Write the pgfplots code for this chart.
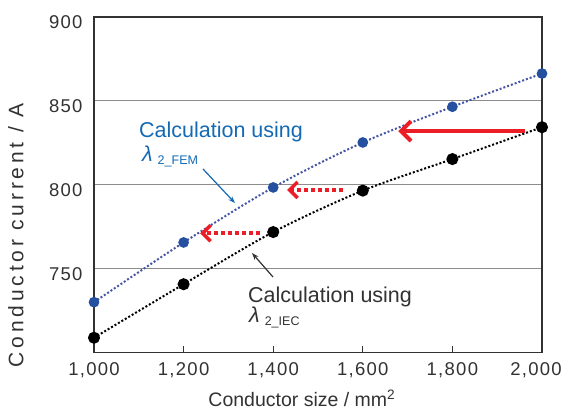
\documentclass[border=0pt]{standalone}
\usepackage{pgfplots}
\pgfplotsset{compat=1.18}
\usepackage{fontspec}
\setmainfont{Liberation Sans}
\usetikzlibrary{arrows.meta}
\definecolor{femblue}{RGB}{37,80,160}
\definecolor{femline}{RGB}{70,85,165}
\definecolor{txtblue}{RGB}{20,105,180}
\definecolor{arrred}{RGB}{235,30,40}
\definecolor{gridgray}{RGB}{140,140,140}
\definecolor{tickgray}{RGB}{50,50,50}
\begin{document}
\begin{tikzpicture}
\begin{axis}[
  scale only axis, width=448bp, height=335.5bp,
  xmin=1000, xmax=2000, ymin=700, ymax=900,
  xtick={1000,1200,1400,1600,1800,2000},
  xticklabels={{1,000},{1,200},{1,400},{1,600},{1,800},{\hspace*{-12bp}2,000}},
  ytick={750,800,850,900},
  ymajorgrids, grid style={gridgray, line width=1.2bp},
  axis line style={tickgray, line width=1.3bp},
  xtick pos=bottom, ytick pos=left, tick align=inside,
  ytick style={draw=none},
  xtick style={tickgray, line width=1.2bp},
  major tick length=6bp,
  /pgf/number format/1000 sep={,},
  /pgf/number format/assume math mode=true,
  ticklabel style={font=\fontsize{18.5bp}{20bp}\selectfont\addfontfeature{LetterSpace=7}, text=tickgray},
  xticklabel style={yshift=-7bp},
  yticklabel style={xshift=-8bp, yshift=-5.5bp},
  xlabel={Conductor size / mm\textsuperscript{2}},
  ylabel={Conductor current / A},
  label style={text=tickgray, inner sep=0pt},
  xlabel style={font=\fontsize{19.5bp}{22bp}\selectfont, at={(axis description cs:0.464,-0.1616)}, anchor=base},
  ylabel style={font=\fontsize{21bp}{23bp}\selectfont\addfontfeature{LetterSpace=18}, at={(axis description cs:-0.1578,0.35)}, anchor=base},
]
\coordinate (sw) at (rel axis cs:0,0);
\coordinate (ne) at (rel axis cs:1,1);

\addplot[smooth, femline, line width=2bp, dash pattern=on 2bp off 2bp,
  mark=*, mark size=4.3bp, mark options={solid, fill=femblue, draw=femblue}]
  coordinates {(1000,730.0) (1200,765.6) (1400,798.4) (1600,825.2) (1800,846.5) (2000,866.3)};
\addplot[smooth, black, line width=2bp, dash pattern=on 2bp off 2bp,
  mark=*, mark size=5bp, mark options={solid, fill=black, draw=black}]
  coordinates {(1000,708.8) (1200,740.7) (1400,771.8) (1600,796.5) (1800,815.3) (2000,834.3)};

% red arrows
\draw[arrred, line width=4bp, -{Straight Barb[length=10bp,width=20bp]}]
  (axis cs:1962,832.0) -- (axis cs:1679,832.0);
\draw[arrred, line width=3.5bp, dash pattern=on 4bp off 3bp, -{Straight Barb[length=8bp,width=16bp]}]
  (axis cs:1556,796.9) -- (axis cs:1431,796.9);
\draw[arrred, line width=3.5bp, dash pattern=on 4bp off 3bp, -{Straight Barb[length=8bp,width=16bp]}]
  (axis cs:1370,771.1) -- (axis cs:1237,771.1);

% annotations
\node[anchor=base west, inner sep=0pt, text=txtblue, font=\fontsize{21.5bp}{24bp}\selectfont]
  at (axis cs:1100.4,828) {Calculation using};
\node[anchor=base west, inner sep=0pt, text=txtblue, font=\fontsize{21.5bp}{24bp}\selectfont]
  at (axis cs:1107,813.6) {\textit{λ}\hspace{5bp}\raisebox{-3bp}{\fontsize{12.5bp}{14bp}\selectfont 2\_FEM}};
\draw[txtblue, line width=1.2bp, -{Stealth[length=7bp,width=5bp]}]
  (axis cs:1243.3,809.4) -- (axis cs:1314.7,789.1);

\node[anchor=base west, inner sep=0pt, text=tickgray, font=\fontsize{21.5bp}{24bp}\selectfont]
  at (axis cs:1343.8,730.1) {Calculation using};
\node[anchor=base west, inner sep=0pt, text=tickgray, font=\fontsize{21.5bp}{24bp}\selectfont]
  at (axis cs:1346,717.6) {\textit{λ}\hspace{5bp}\raisebox{-3bp}{\fontsize{12.5bp}{14bp}\selectfont 2\_IEC}};
\draw[tickgray, line width=1.2bp, -{Stealth[length=7bp,width=5bp]}]
  (axis cs:1399.6,745.0) -- (axis cs:1352.7,759.3);
\end{axis}
\pgfresetboundingbox
\path[use as bounding box] ([shift={(-94bp,-63.5bp)}]sw) rectangle ([shift={(24bp,17bp)}]ne);
\end{tikzpicture}
\end{document}
